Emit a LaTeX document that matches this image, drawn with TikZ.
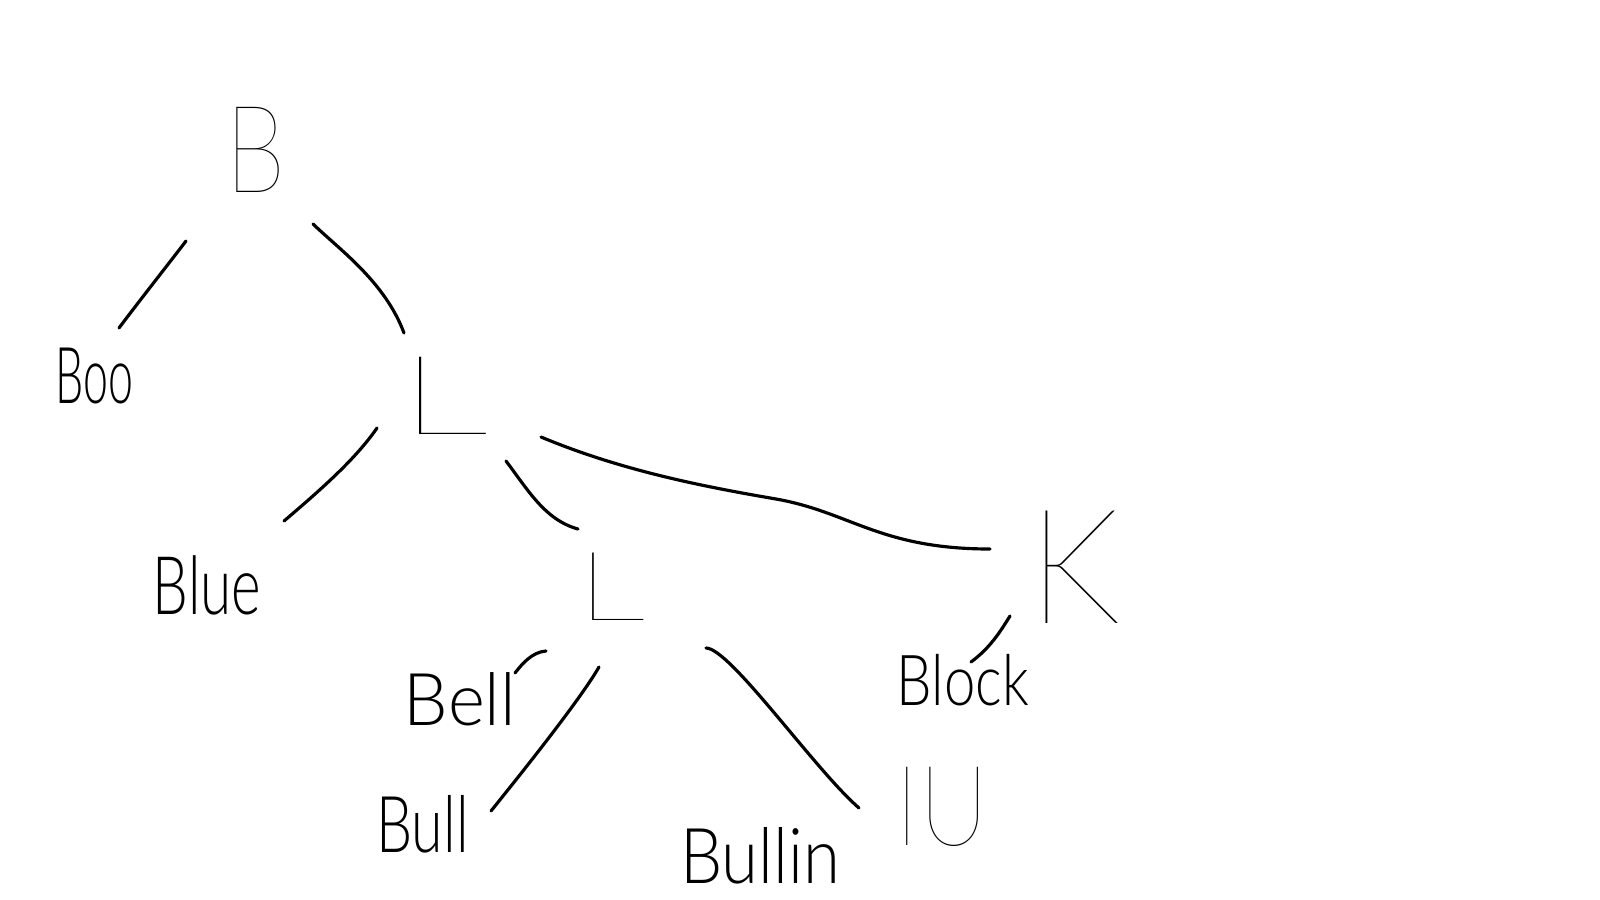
\documentclass[tikz,border=0pt]{standalone}
\usepackage{graphicx}
\usepackage{fontspec}
\setmainfont{Lato Thin}
\newfontfamily\lightfont{Lato Light}
\newcommand{\hw}[3]{\scalebox{#1}[1]{\fontsize{#2pt}{#2pt}\selectfont #3}}
\newcommand{\hwl}[3]{\scalebox{#1}[1]{\lightfont\fontsize{#2pt}{#2pt}\selectfont #3}}
\tikzset{
  lbl/.style={anchor=base, inner sep=0pt, text=black},
  stroke/.style={line width=0.9pt, line cap=round, line join=round, black}
}
\begin{document}
\begin{tikzpicture}[x=0.01cm, y=-0.01cm]
\fill[white] (0,0) rectangle (1600,900);
\useasboundingbox (0,0) rectangle (1600,900);
% nodes
\node[lbl] (b)      at (256,192)   {\hw{0.8}{34.6}{B}};
\node[lbl] (boo)    at (94.5,403)  {\hwl{0.57}{22.3}{Boo}};
\node[lbl] (l1)     at (444,434)   {\hw{1.64}{31.4}{L}};
\node[lbl] (blue)   at (207,614)   {\hwl{0.7}{23}{Blue}};
\node[lbl] (l2)     at (611,620)   {\hw{1.44}{27.4}{L}};
\node[lbl] (k)      at (1075,623)  {\hw{0.94}{45.7}{K}};
\node[lbl] (block)  at (963,705)   {\hwl{0.8}{20}{Block}};
\node[lbl] (bell)   at (460,725)   {\hwl{0.97}{20.7}{Bell}};
\node[lbl] (bull)   at (422.5,852) {\hwl{0.73}{22.3}{Bull}};
\node[lbl] (bullin) at (760,883)   {\hwl{0.87}{21.9}{Bullin}};
\node[lbl] (iu)     at (942,845)   {\hw{0.86}{31.8}{IU}};
% connector ends
\coordinate (b-sw) at (186,241);
\coordinate (boo-n) at (119,328);
\coordinate (b-se) at (313,224);
\coordinate (l1-n) at (404,333);
\coordinate (l1-sw) at (377,428);
\coordinate (blue-n) at (284,521);
\coordinate (l1-s) at (506,461);
\coordinate (l2-n) at (578,529);
\coordinate (l1-e) at (541,437);
\coordinate (l1k-mid) at (776,499);
\coordinate (k-w) at (990,549);
\coordinate (k-sw) at (1010,616);
\coordinate (block-n) at (971,662);
\coordinate (l2-w) at (546,651);
\coordinate (bell-n) at (515,673);
\coordinate (l2-s) at (599,667);
\coordinate (bull-n) at (491,811);
\coordinate (l2-se) at (706,648);
\coordinate (bullin-n) at (859,808);
% connectors
\draw[stroke] (b-sw) .. controls (170,262) and (140,300) .. (boo-n);
\draw[stroke] (b-se) .. controls (340,250) and (385,282) .. (l1-n);
\draw[stroke] (l1-sw) .. controls (355,460) and (318,492) .. (blue-n);
\draw[stroke] (l1-s) .. controls (528,490) and (545,520) .. (l2-n);
\draw[stroke] (l1-e) .. controls (620,470) and (700,486) .. (l1k-mid)
              .. controls (850,512) and (880,549) .. (k-w);
\draw[stroke] (k-sw) .. controls (1000,632) and (990,648) .. (block-n);
\draw[stroke] (l2-w) .. controls (532,652) and (522,664) .. (bell-n);
\draw[stroke] (l2-s) .. controls (580,700) and (520,775) .. (bull-n);
\draw[stroke] (l2-se) .. controls (730,648) and (815,770) .. (bullin-n);
\end{tikzpicture}
\end{document}
